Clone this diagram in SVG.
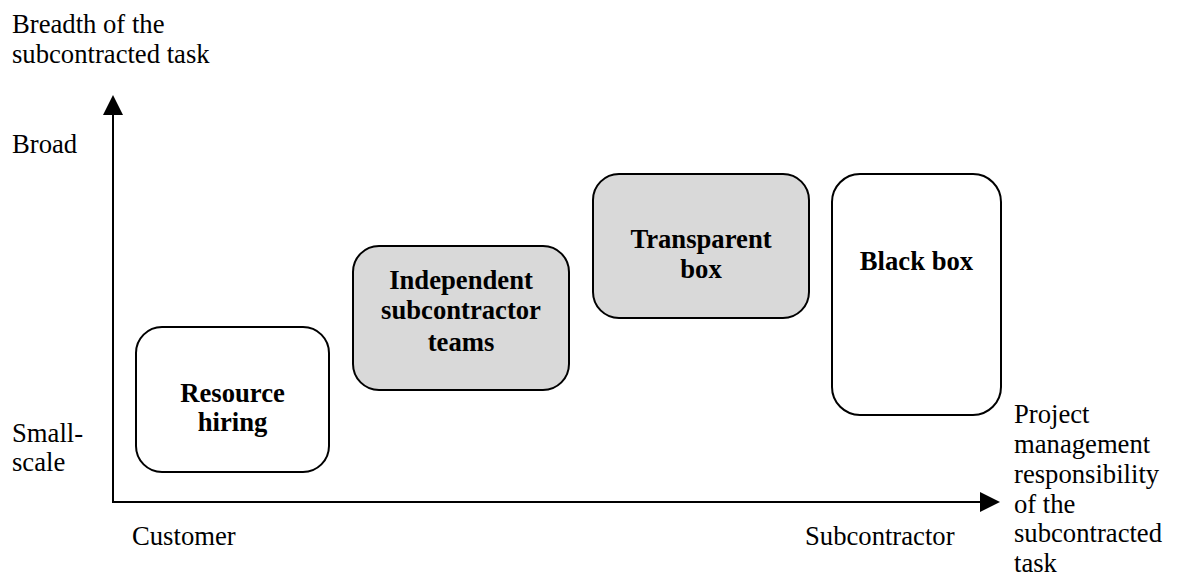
<svg xmlns="http://www.w3.org/2000/svg" width="1177" height="583" viewBox="0 0 1177 583">
<style>
.lbl{font-family:"Liberation Serif","Times New Roman",serif;font-size:26.67px;fill:#000}
.nt{font-family:"Liberation Serif","Times New Roman",serif;font-size:26.67px;font-weight:bold;fill:#000;text-anchor:middle}
.box{stroke:#000;stroke-width:2}
.w{fill:#fff}
.g{fill:#d9d9d9}
.ax{stroke:#000;stroke-width:2;fill:none}
</style>
<rect width="1177" height="583" fill="#fff"/>
<g id="axes">
<path class="ax" d="M113,113 V502 H982"/>
<polygon points="113,95 103,115 123,115" fill="#000"/>
<polygon points="1000,502 980,492 980,512" fill="#000"/>
</g>
<g id="labels">
<text class="lbl" x="12" y="33">Breadth of the</text>
<text class="lbl" x="12" y="63">subcontracted task</text>
<text class="lbl" x="12" y="153">Broad</text>
<text class="lbl" x="12" y="442">Small-</text>
<text class="lbl" x="12" y="471">scale</text>
<text class="lbl" x="132" y="545">Customer</text>
<text class="lbl" x="805" y="545">Subcontractor</text>
<text class="lbl" x="1014" y="423">Project</text>
<text class="lbl" x="1014" y="453">management</text>
<text class="lbl" x="1014" y="483">responsibility</text>
<text class="lbl" x="1014" y="513">of the</text>
<text class="lbl" x="1014" y="542">subcontracted</text>
<text class="lbl" x="1014" y="572">task</text>
</g>
<g id="resource-hiring">
<rect class="box w" x="136" y="327" width="193" height="145" rx="26" ry="26"/>
<text class="nt" x="232.5" y="402">Resource</text>
<text class="nt" x="232.5" y="431">hiring</text>
</g>
<g id="independent-teams">
<rect class="box g" x="353" y="246" width="216" height="144" rx="26" ry="26"/>
<text class="nt" x="461" y="289">Independent</text>
<text class="nt" x="461" y="319">subcontractor</text>
<text class="nt" x="461" y="351">teams</text>
</g>
<g id="transparent-box">
<rect class="box g" x="593" y="174" width="216" height="144" rx="26" ry="26"/>
<text class="nt" x="701" y="248">Transparent</text>
<text class="nt" x="701" y="278">box</text>
</g>
<g id="black-box">
<rect class="box w" x="832" y="174" width="169" height="241" rx="28" ry="28"/>
<text class="nt" x="916.5" y="270">Black box</text>
</g>
</svg>
